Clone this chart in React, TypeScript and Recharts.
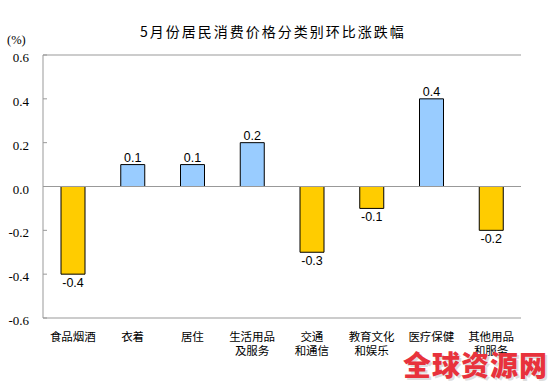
import React from 'react';
import { BarChart, Bar, XAxis, YAxis, Cell, LabelList, ReferenceLine } from 'recharts';

const categories = ['食品烟酒', '衣着', '居住', '生活用品\n及服务', '交通\n和通信', '教育文化\n和娱乐', '医疗保健', '其他用品\n和服务'];
const values = [-0.4, 0.1, 0.1, 0.2, -0.3, -0.1, 0.4, -0.2];
const yTicks = [-0.6, -0.4, -0.2, 0.0, 0.2, 0.4, 0.6];

const data = categories.map((name, i) => ({ name, value: values[i] }));

const AXIS_GRAY = '#999999';

const YTick = (props: any) => {
  const { x, y, payload } = props;
  return (
    <g>
      <line x1={x} x2={x + 4} y1={y} y2={y} stroke={AXIS_GRAY} />
      <text x={x - 14} y={y + 7} textAnchor="end" fontFamily="'Liberation Serif', serif" fontSize={13} fill="#000">
        {payload.value.toFixed(1)}
      </text>
    </g>
  );
};

const XTick = (props: any) => {
  const { x, y, payload } = props;
  const lines = String(payload.value).split('\n');
  return (
    <g>
      {lines.map((t, i) => (
        <text key={i} x={x} y={y + 23 + i * 14} textAnchor="middle" fontFamily="'Noto Sans CJK SC', sans-serif" fontSize={11.5} fill="#000">
          {t}
        </text>
      ))}
    </g>
  );
};

const ValueLabel = (props: any) => {
  const { x, y, width, height, value } = props;
  const cx = x + width / 2;
  // negative bars: height is negative in recharts, bottom edge = y + height
  const top = Math.min(y, y + height);
  const bottom = Math.max(y, y + height);
  const ty = value >= 0 ? top - 3 : bottom + 13;
  return (
    <text x={cx} y={ty} textAnchor="middle" fontFamily="'Liberation Sans', Arial, sans-serif" fontSize={12.5} fill="#000">
      {value.toFixed(1)}
    </text>
  );
};

export default function App() {
  return (
    <div style={{ position: 'absolute', left: 0, top: 0, width: 554, height: 384, background: '#fff' }}>
      <div style={{ position: 'absolute', left: 140, top: 21, whiteSpace: 'nowrap', fontFamily: "'Noto Sans CJK SC', sans-serif", fontSize: 14, letterSpacing: 2, color: '#000', lineHeight: '20px' }}>
        5月份居民消费价格分类别环比涨跌幅
      </div>
      <div style={{ position: 'absolute', left: 7, top: 32, fontFamily: "'Liberation Serif', serif", fontSize: 12.5, color: '#000', lineHeight: '16px' }}>
        (%)
      </div>
      <BarChart
        width={554}
        height={384}
        data={data}
        margin={{ top: 55, right: 33, left: 0, bottom: 0 }}
        barCategoryGap={0}
      >
        <XAxis
          dataKey="name"
          axisLine={{ stroke: AXIS_GRAY }}
          tickLine={false}
          tick={<XTick />}
          interval={0}
          height={66}
          tickSize={0}
          tickMargin={0}
        />
        <YAxis
          domain={[-0.6, 0.6]}
          ticks={yTicks}
          width={43}
          axisLine={{ stroke: AXIS_GRAY }}
          tickLine={false}
          tickSize={0}
          tickMargin={0}
          tick={<YTick />}
          interval={0}
        />
        <YAxis yAxisId="right" orientation="right" width={0} axisLine={{ stroke: AXIS_GRAY }} tick={false} tickLine={false} domain={[-0.6, 0.6]} />
        <ReferenceLine y={0.6} stroke={AXIS_GRAY} />
        <ReferenceLine y={0} stroke={AXIS_GRAY} />
        <Bar dataKey="value" barSize={24} stroke="#000" strokeWidth={1} isAnimationActive={false}>
          {data.map((d, i) => (
            <Cell key={i} fill={d.value >= 0 ? '#99CCFF' : '#FFCC00'} />
          ))}
          <LabelList dataKey="value" content={<ValueLabel />} />
        </Bar>
      </BarChart>
      <div style={{ position: 'absolute', left: 403, top: 347, fontFamily: "'Noto Sans CJK SC', sans-serif", fontWeight: 900, fontSize: 28, color: '#e8323c', lineHeight: '34px', letterSpacing: 1, textShadow: '2px 2px 0 rgba(200,200,200,0.6)' }}>
        全球资源网
      </div>
    </div>
  );
}
